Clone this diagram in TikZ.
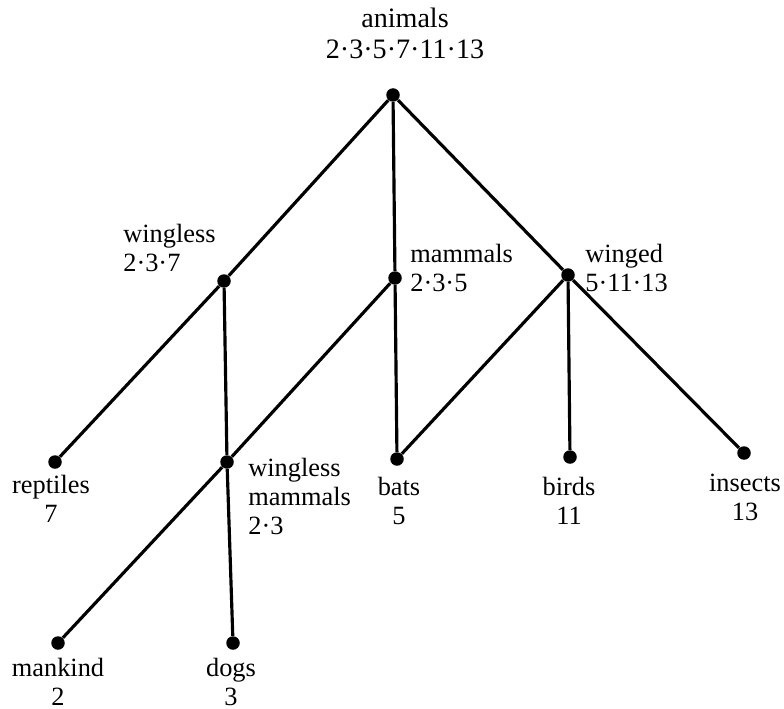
\documentclass[tikz,border=0pt]{standalone}
\usepackage{fontspec}
\setmainfont{Liberation Serif}
\usetikzlibrary{positioning}
\tikzset{
  vertex/.style={circle, fill=black, inner sep=0pt, minimum size=0.27cm},
  branch/.style={line width=1.8pt},
  lbl/.style={inner sep=0pt, font=\fontsize{15}{16.5}\selectfont}
}

\begin{document}
\begin{tikzpicture}
            \useasboundingbox (0,0) rectangle (15.68,-14.18);
            % points of the lattice
            \node[vertex] (animals) at (7.86,-1.90) {};
            \node[vertex] (wingless) at (4.48,-5.62) {};
            \node[vertex] (mammals) at (7.90,-5.56) {};
            \node[vertex] (winged) at (11.36,-5.50) {};
            \node[vertex] (reptiles) at (1.10,-9.24) {};
            \node[vertex] (winglessmammals) at (4.54,-9.24) {};
            \node[vertex] (bats) at (7.94,-9.18) {};
            \node[vertex] (birds) at (11.40,-9.14) {};
            \node[vertex] (insects) at (14.88,-9.06) {};
            \node[vertex] (mankind) at (1.16,-12.86) {};
            \node[vertex] (dogs) at (4.66,-12.86) {};

            \draw[branch] (animals) -- (wingless);
            \draw[branch] (animals) -- (mammals);
            \draw[branch] (animals) -- (winged);
            \draw[branch] (wingless) -- (reptiles);
            \draw[branch] (wingless) -- (winglessmammals);
            \draw[branch] (mammals) -- (winglessmammals);
            \draw[branch] (mammals) -- (bats);
            \draw[branch] (winged) -- (bats);
            \draw[branch] (winged) -- (birds);
            \draw[branch] (winged) -- (insects);
            \draw[branch] (winglessmammals) -- (mankind);
            \draw[branch] (winglessmammals) -- (dogs);

            % labels
            \node[lbl, align=center, anchor=south, font=\fontsize{16}{17.5}\selectfont] (animals-l) at (8.10,-1.18) {animals\\2·3·5·7·11·13};
            \node[lbl, align=left, anchor=south west] (wingless-l) at (2.46,-5.44) {wingless\\2·3·7};
            \node[lbl, align=left, anchor=south west] (mammals-l) at (8.20,-5.84) {mammals\\2·3·5};
            \node[lbl, align=left, anchor=south west] (winged-l) at (11.70,-5.84) {winged\\5·11·13};
            \node[lbl, align=left, anchor=south west] (winglessmammals-l) at (4.96,-10.70) {wingless\\mammals\\2·3};
            \node[lbl, align=center, anchor=south] (reptiles-l) at (1.02,-10.46) {reptiles\\7};
            \node[lbl, align=center, anchor=south] (bats-l) at (7.98,-10.50) {bats\\5};
            \node[lbl, align=center, anchor=south] (birds-l) at (11.38,-10.50) {birds\\11};
            \node[lbl, align=center, anchor=south] (insects-l) at (14.90,-10.42) {insects\\13};
            \node[lbl, align=center, anchor=south] (mankind-l) at (1.16,-14.12) {mankind\\2};
            \node[lbl, align=center, anchor=south] (dogs-l) at (4.62,-14.12) {dogs\\3};
        \end{tikzpicture}
\end{document}
